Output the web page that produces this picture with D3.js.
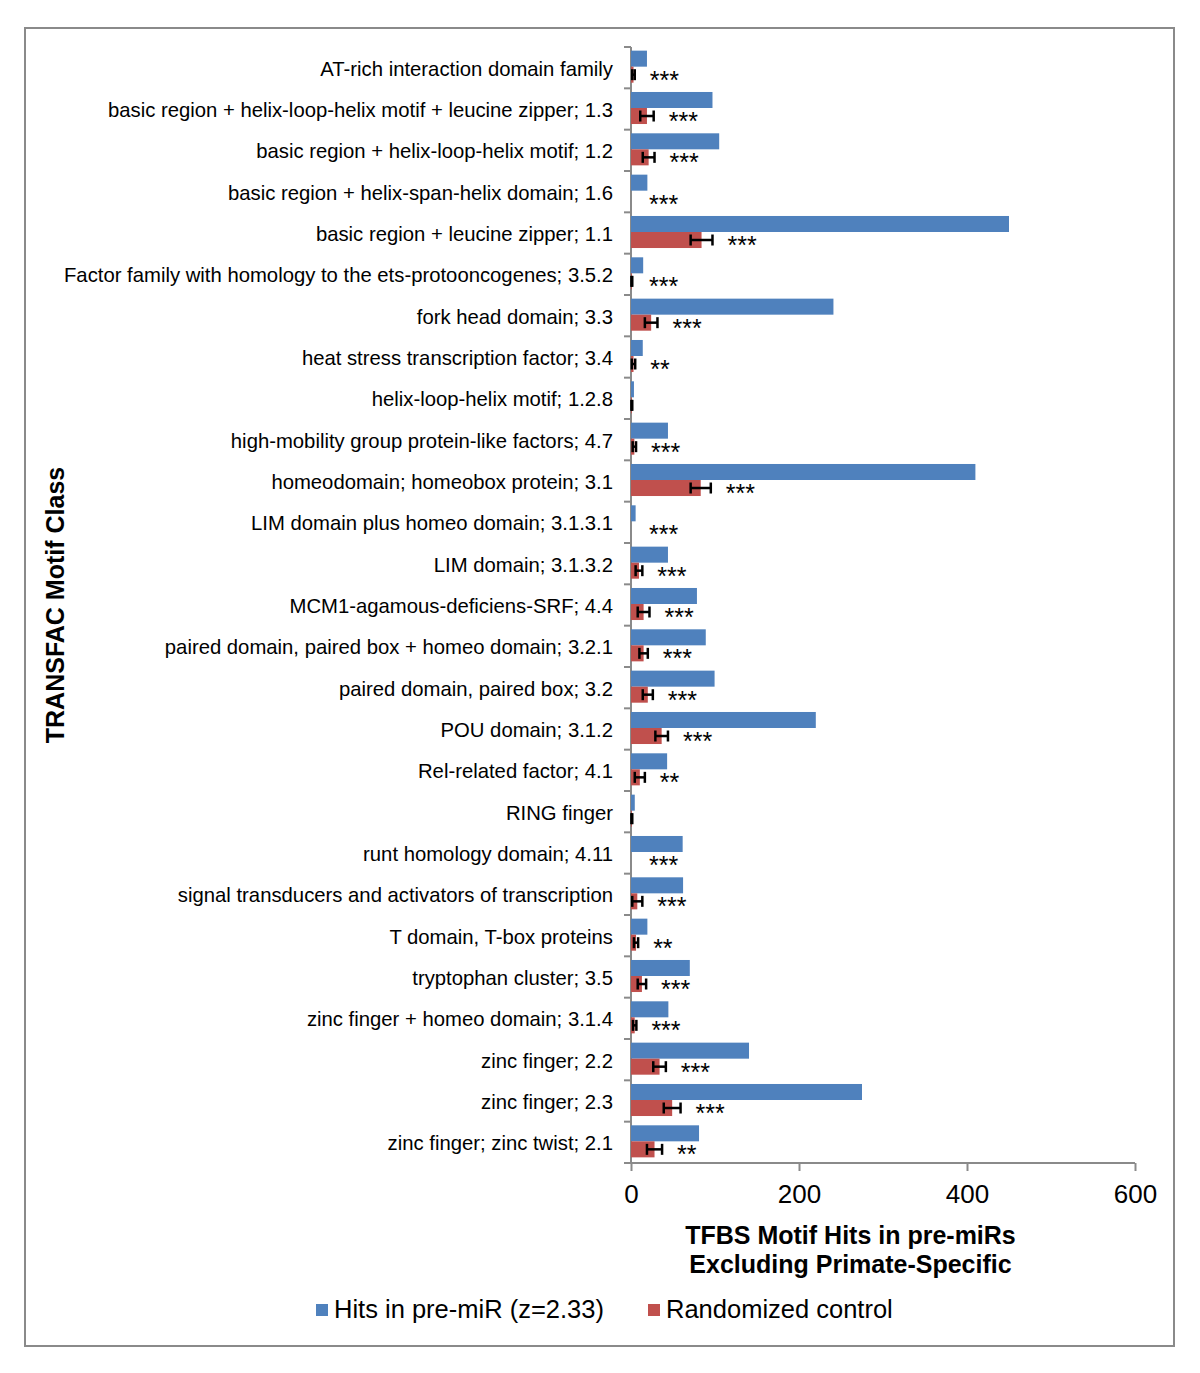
<!DOCTYPE html>
<html>
<head>
<meta charset="utf-8">
<script src="https://cdn.jsdelivr.net/npm/d3@7"></script>
<style>
  body { margin: 0; background: #fff; }
  svg text { font-family: "Liberation Sans", Arial, sans-serif; }
</style>
</head>
<body>
<svg id="chart" width="1200" height="1373"></svg>
<script>
const categories = [
  "AT-rich interaction domain family",
  "basic region + helix-loop-helix motif + leucine zipper; 1.3",
  "basic region + helix-loop-helix motif; 1.2",
  "basic region + helix-span-helix domain; 1.6",
  "basic region + leucine zipper; 1.1",
  "Factor family with homology to the ets-protooncogenes; 3.5.2",
  "fork head domain; 3.3",
  "heat stress transcription factor; 3.4",
  "helix-loop-helix motif; 1.2.8",
  "high-mobility group protein-like factors; 4.7",
  "homeodomain; homeobox protein; 3.1",
  "LIM domain plus homeo domain; 3.1.3.1",
  "LIM domain; 3.1.3.2",
  "MCM1-agamous-deficiens-SRF; 4.4",
  "paired domain, paired box + homeo domain; 3.2.1",
  "paired domain, paired box; 3.2",
  "POU domain; 3.1.2",
  "Rel-related factor; 4.1",
  "RING finger",
  "runt homology domain; 4.11",
  "signal transducers and activators of transcription",
  "T domain, T-box proteins",
  "tryptophan cluster; 3.5",
  "zinc finger + homeo domain; 3.1.4",
  "zinc finger; 2.2",
  "zinc finger; 2.3",
  "zinc finger; zinc twist; 2.1"
];
const hitsValues = [19, 97, 105, 19.5, 450, 14.5, 241, 14, 3.5, 44, 410, 5.5, 44, 78.5, 89, 99.5, 220, 43, 4.5, 61.5, 62, 19.5, 70, 44.5, 140.5, 275, 81];
const controlValues = [3, 19, 21, 0, 84, 1, 24, 3, 1, 4, 83, 0, 9.5, 15, 15, 20, 36.5, 10.5, 1, 0, 7.5, 6, 13, 4.4, 34, 49, 28];
const controlError = [1.5, 8, 7, 0, 13, 0.5, 7.5, 2, 0.5, 2, 12, 0, 4, 7, 5, 6, 7.5, 6, 0.5, 0, 6, 2.5, 5, 2, 7.5, 10, 9];
const significance = ["***","***","***","***","***","***","***","**","","***","***","***","***","***","***","***","***","**","","***","***","**","***","***","***","***","**"];
const xTicks = [0, 200, 400, 600];
const seriesNames = ["Hits in pre-miR (z=2.33)", "Randomized control"];
const seriesColors = ["#4F81BD", "#C0504D"];

(function () {
const svg = d3.select("#chart");
const plotLeft = 631, plotRight = 1135, plotTop = 47, plotBottom = 1163;

svg.append("rect").attr("x", 25).attr("y", 28).attr("width", 1149).attr("height", 1318)
  .attr("fill", "none").attr("stroke", "#8a8a8a").attr("stroke-width", 2);

const x = d3.scaleLinear().domain([0, 600]).range([plotLeft, plotRight]);
const y = d3.scaleBand().domain(categories).range([plotTop, plotBottom]);
const sub = d3.scaleBand().domain(["hits", "ctrl"]).range([0, y.bandwidth()]).paddingOuter(0.29);

const data = categories.map((c, i) => ({
  cat: c, hits: hitsValues[i], ctrl: controlValues[i], err: controlError[i], sig: significance[i]
}));

const xAxis = svg.append("g").attr("transform", `translate(0,${plotBottom})`)
  .call(d3.axisBottom(x).tickValues(xTicks).tickSize(8).tickPadding(14).tickFormat(d3.format("d")));
xAxis.select(".domain").attr("stroke", "#8a8a8a").attr("stroke-width", 2).attr("d", `M${plotLeft},0H${plotRight}`);
xAxis.selectAll(".tick line").attr("stroke", "#8a8a8a").attr("stroke-width", 2);
xAxis.selectAll(".tick text").attr("font-size", 26).attr("fill", "#000")
  .attr("font-family", "Liberation Sans, Arial, sans-serif");

svg.append("line").attr("x1", plotLeft).attr("x2", plotLeft).attr("y1", plotTop).attr("y2", plotBottom)
  .attr("stroke", "#8a8a8a").attr("stroke-width", 2);
const boundaries = categories.map(c => y(c)).concat([plotBottom]);
svg.append("g").selectAll("line").data(boundaries).join("line")
  .attr("x1", plotLeft - 7).attr("x2", plotLeft).attr("y1", d => d).attr("y2", d => d)
  .attr("stroke", "#8a8a8a").attr("stroke-width", 2);

svg.append("g").selectAll("text").data(data).join("text")
  .attr("x", 613).attr("y", d => y(d.cat) + y.bandwidth() / 2 + 1)
  .attr("text-anchor", "end").attr("dominant-baseline", "central")
  .attr("font-size", 20.3).attr("fill", "#000").text(d => d.cat);

const shift = -1;
svg.append("g").selectAll("rect").data(data).join("rect")
  .attr("x", plotLeft).attr("y", d => y(d.cat) + sub("hits") + shift)
  .attr("width", d => x(d.hits) - plotLeft).attr("height", sub.bandwidth())
  .attr("fill", seriesColors[0]);
svg.append("g").selectAll("rect").data(data.filter(d => d.ctrl > 0)).join("rect")
  .attr("x", plotLeft).attr("y", d => y(d.cat) + sub("ctrl") + shift)
  .attr("width", d => x(d.ctrl) - plotLeft).attr("height", sub.bandwidth())
  .attr("fill", seriesColors[1]);

const eb = svg.append("g").attr("stroke", "#000").attr("stroke-width", 2.5);
data.filter(d => d.ctrl > 0).forEach(d => {
  const cy = y(d.cat) + sub("ctrl") + sub.bandwidth() / 2 + shift;
  const x0 = x(d.ctrl - d.err), x1 = x(d.ctrl + d.err);
  eb.append("line").attr("x1", x0).attr("x2", x1).attr("y1", cy).attr("y2", cy);
  eb.append("line").attr("x1", x0).attr("x2", x0).attr("y1", cy - 5.5).attr("y2", cy + 5.5);
  eb.append("line").attr("x1", x1).attr("x2", x1).attr("y1", cy - 5.5).attr("y2", cy + 5.5);
});

svg.append("g").selectAll("text").data(data.filter(d => d.sig)).join("text")
  .attr("x", d => Math.max(x(d.ctrl + d.err) + 15, plotLeft + 18))
  .attr("y", d => y(d.cat) + sub("ctrl") + sub.bandwidth() / 2 + shift + 14)
  .attr("font-size", 25).attr("fill", "#000").text(d => d.sig);

svg.append("text").attr("transform", "translate(64,605) rotate(-90)")
  .attr("text-anchor", "middle").attr("font-size", 25).attr("font-weight", "bold")
  .text("TRANSFAC Motif Class");

const xt = svg.append("text").attr("text-anchor", "middle").attr("font-size", 25).attr("font-weight", "bold");
xt.append("tspan").attr("x", 850.5).attr("y", 1244).text("TFBS Motif Hits in pre-miRs");
xt.append("tspan").attr("x", 850.5).attr("y", 1273).text("Excluding Primate-Specific");

const legendX = [316, 648];
seriesNames.forEach((n, i) => {
  svg.append("rect").attr("x", legendX[i]).attr("y", 1304).attr("width", 12).attr("height", 12)
    .attr("fill", seriesColors[i]);
  svg.append("text").attr("x", legendX[i] + 18).attr("y", 1318)
    .attr("font-size", 25.5).attr("fill", "#000").text(n);
});
})();
</script>
</body>
</html>
